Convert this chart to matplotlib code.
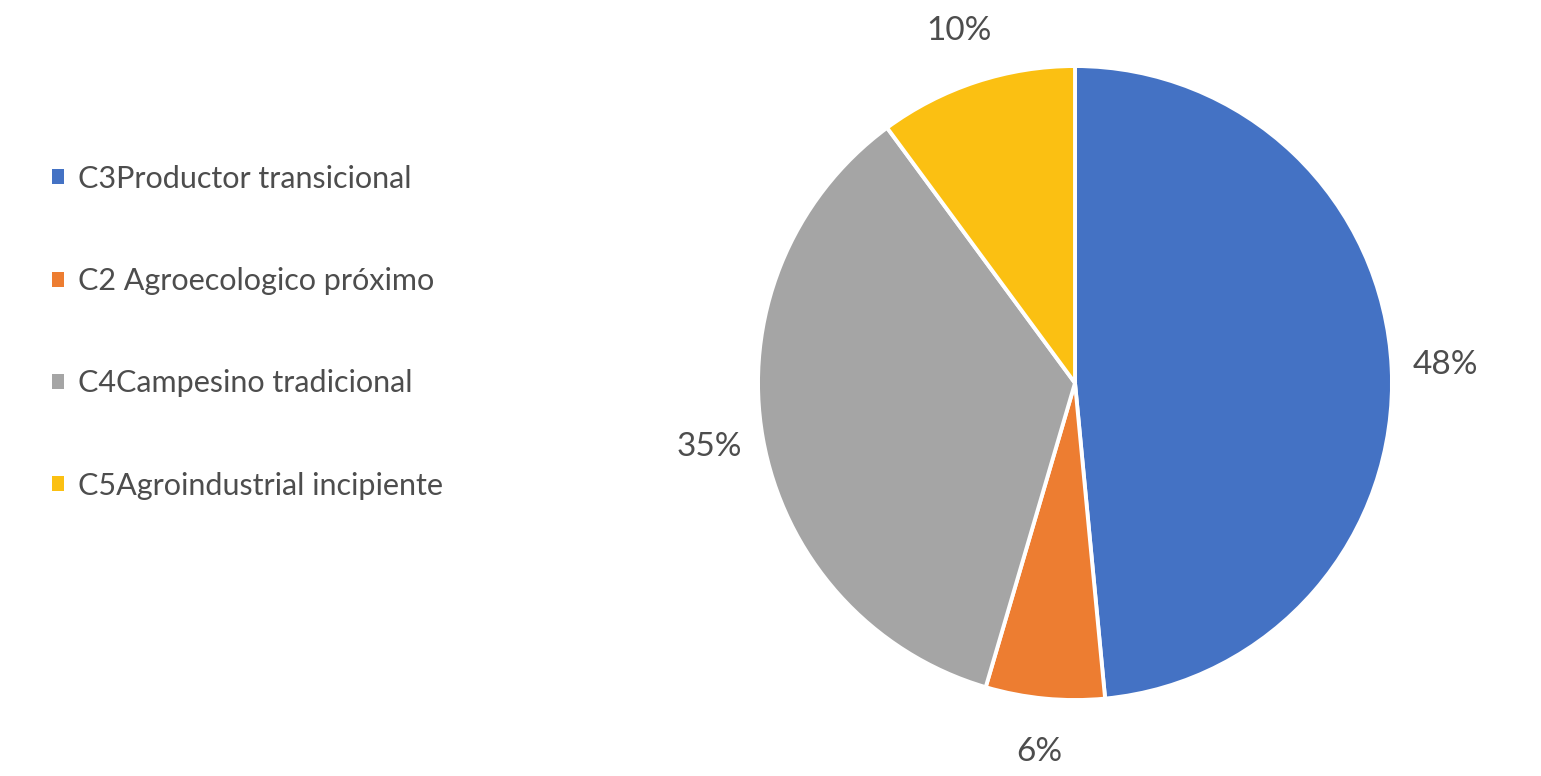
import matplotlib
matplotlib.use("Agg")
import matplotlib.pyplot as plt
from matplotlib.patches import Patch

# data
categories = ["C3Productor transicional", "C2 Agroecologico próximo",
              "C4Campesino tradicional", "C5Agroindustrial incipiente"]
shares = [48, 6, 35, 10]
colors = ["#4472C4", "#ED7D31", "#A5A5A5", "#FBC012"]

plt.rcParams['font.family'] = ['Lato', 'DejaVu Sans']
text_color = "#4d4d4d"

fig = plt.figure(figsize=(15.41, 7.76), dpi=100)
ax = fig.add_axes([0.4919, 0.0979, 0.4114, 0.817])

wedges, texts, autotexts = ax.pie(
    shares, colors=colors, startangle=90, counterclock=False,
    autopct='%1.0f%%', pctdistance=1.17,
    wedgeprops=dict(edgecolor='white', linewidth=2.8),
    textprops=dict(color=text_color, fontsize=24))
ax.set_xlim(-1, 1)
ax.set_ylim(-1, 1)
ax.set_aspect('auto')
ax.axis('off')

handles = [Patch(facecolor=c, edgecolor='none') for c in colors]
fig.legend(handles, categories, loc='upper left', bbox_to_anchor=(0.016, 0.823),
           frameon=False, fontsize=22, labelcolor=text_color,
           handlelength=0.38, handleheight=0.38, handletextpad=0.45,
           labelspacing=2.43)

fig.savefig("out.png", dpi=100)
